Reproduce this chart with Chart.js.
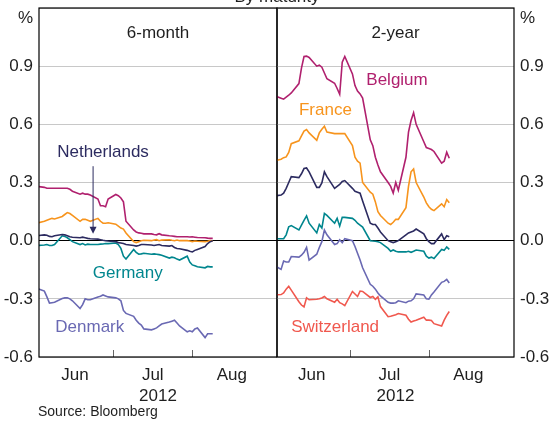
<!DOCTYPE html>
<html>
<head>
<meta charset="utf-8">
<script src="https://cdn.jsdelivr.net/npm/chart.js@4.4.1/dist/chart.umd.min.js"></script>
<style>
  html, body { margin: 0; padding: 0; background: #fff; }
  #wrap { position: relative; width: 551px; height: 423px; overflow: hidden; }
  #wrap canvas { position: absolute; left: 0; top: 0; }
</style>
</head>
<body>
<div id="wrap">
  <canvas id="left" width="551" height="423"></canvas>
  <canvas id="right" width="551" height="423"></canvas>
</div>
<script>
// trading days, counted as day of June 2012 (Jul 1 = 31, Aug 1 = 62)
const days = [1, 4, 5, 6, 7, 8, 11, 12, 13, 14, 15, 18, 19, 20, 21, 22, 25, 26, 27, 28, 29,
  32, 33, 34, 35, 36, 39, 40, 41, 42, 43, 46, 47, 48, 49, 50, 53, 54, 55, 56, 57, 60, 61,
  62, 63, 64, 67, 68, 69, 70];

const monthMids = [16, 46.5, 77.5];
const monthLabels = ['Jun', 'Jul', 'Aug'];
const monthStarts = [31, 62];

// 6-month yields, %
const m6Belgium = [0.28, 0.275, 0.27, 0.27, 0.27, 0.27, 0.27, 0.27, 0.27, 0.265, 0.255, 0.24, 0.245, 0.24, 0.24, 0.235,
  0.215, 0.18, 0.18, 0.175, 0.215, 0.238, 0.232, 0.22, 0.2, 0.1, 0.055, 0.045, 0.04, 0.038, 0.035, 0.035, 0.032, 0.03,
  0.036, 0.03, 0.025, 0.024, 0.022, 0.02, 0.02, 0.02, 0.019, 0.02, 0.018, 0.016, 0.015, 0.013, 0.012, 0.012];
const m6France = [0.09, 0.1, 0.105, 0.11, 0.115, 0.112, 0.125, 0.135, 0.145, 0.14, 0.13, 0.1, 0.11, 0.11, 0.105, 0.1,
  0.115, 0.1, 0.09, 0.09, 0.092, 0.085, 0.075, 0.065, 0.06, 0.04, -0.005, -0.01, -0.005, 0.0, 0.002, 0.0, 0.003, 0.005,
  0.0, 0.003, 0.005, 0.002, 0.0, 0.003, 0.0, 0.0, -0.002, -0.005, -0.002, -0.003, -0.005, -0.003, 0.0, -0.002];
const m6Netherlands = [0.025, 0.03, 0.028, 0.022, 0.02, 0.025, 0.032, 0.03, 0.025, 0.02, 0.018, 0.015, 0.018, 0.015,
  0.012, 0.01, 0.008, 0.005, 0.002, 0.0, -0.002, -0.005, -0.01, -0.012, -0.015, -0.02, -0.025, -0.028, -0.025, -0.02,
  -0.02, -0.022, -0.025, -0.022, -0.02, -0.025, -0.028, -0.025, -0.035, -0.04, -0.042, -0.05, -0.055, -0.058, -0.05,
  -0.045, -0.03, -0.015, -0.005, 0.0];
const m6Germany = [-0.025, -0.022, -0.02, -0.025, -0.025, -0.02, 0.025, 0.022, 0.015, 0.005, -0.005, -0.02, -0.015,
  -0.022, -0.018, -0.02, -0.02, -0.018, -0.017, -0.015, -0.015, -0.012, -0.02, -0.04, -0.08, -0.095, -0.045, -0.06,
  -0.07, -0.068, -0.065, -0.07, -0.068, -0.07, -0.072, -0.075, -0.09, -0.085, -0.088, -0.095, -0.1, -0.08, -0.11,
  -0.125, -0.13, -0.135, -0.14, -0.133, -0.135, -0.135];
const m6Denmark = [-0.245, -0.26, -0.29, -0.322, -0.32, -0.318, -0.298, -0.295, -0.295, -0.3, -0.31, -0.35, -0.33, -0.3,
  -0.305, -0.305, -0.29, -0.287, -0.28, -0.285, -0.29, -0.295, -0.3, -0.31, -0.36, -0.375, -0.39, -0.41, -0.425, -0.435,
  -0.455, -0.46, -0.455, -0.45, -0.44, -0.43, -0.42, -0.415, -0.41, -0.425, -0.44, -0.47, -0.465, -0.47, -0.455, -0.45,
  -0.5, -0.48, -0.48, -0.48];

// 2-year yields, %
const y2Belgium = [0.75, 0.735, 0.73, 0.74, 0.75, 0.762, 0.81, 0.89, 0.95, 0.952, 0.945, 0.9, 0.905, 0.895, 0.865, 0.835,
  0.812, 0.785, 0.755, 0.92, 0.95, 0.86, 0.8, 0.772, 0.757, 0.735, 0.52, 0.49, 0.43, 0.39, 0.355, 0.3, 0.28, 0.246, 0.3,
  0.26, 0.43, 0.56, 0.62, 0.66, 0.6, 0.51, 0.48, 0.475, 0.47, 0.46, 0.4, 0.41, 0.456, 0.425];
const y2France = [0.41, 0.42, 0.428, 0.432, 0.455, 0.5, 0.515, 0.54, 0.565, 0.573, 0.556, 0.518, 0.556, 0.575, 0.59,
  0.56, 0.552, 0.552, 0.552, 0.552, 0.552, 0.49, 0.43, 0.41, 0.4, 0.3, 0.25, 0.24, 0.2, 0.15, 0.13, 0.09, 0.083, 0.095,
  0.11, 0.11, 0.17, 0.28, 0.355, 0.37, 0.3, 0.225, 0.195, 0.175, 0.162, 0.155, 0.19, 0.175, 0.212, 0.195];
const y2Netherlands = [0.23, 0.235, 0.245, 0.27, 0.3, 0.33, 0.325, 0.345, 0.372, 0.375, 0.355, 0.275, 0.275, 0.298,
  0.355, 0.33, 0.27, 0.28, 0.29, 0.305, 0.31, 0.27, 0.255, 0.25, 0.245, 0.205, 0.09, 0.083, 0.083, 0.065, 0.045, 0.0,
  -0.005, -0.01, -0.005, 0.0, 0.03, 0.04, 0.045, 0.05, 0.06, 0.035, 0.01, -0.005, -0.015, -0.015, 0.035, 0.005, 0.025,
  0.02];
const y2Germany = [0.01, 0.01, 0.01, 0.03, 0.072, 0.078, 0.055, 0.08, 0.105, 0.128, 0.09, 0.04, 0.083, 0.065, 0.14,
  0.13, 0.09, 0.115, 0.075, 0.12, 0.12, 0.115, 0.105, 0.09, 0.08, 0.07, 0.0, -0.002, -0.003, -0.006, -0.01, -0.04,
  -0.055, -0.048, -0.055, -0.058, -0.058, -0.055, -0.06, -0.055, -0.048, -0.055, -0.08, -0.09, -0.085, -0.092, -0.045,
  -0.05, -0.032, -0.045];
const y2Denmark = [-0.125, -0.148, -0.105, -0.11, -0.11, -0.082, -0.085, -0.075, -0.06, -0.035, -0.1, -0.07, -0.035,
  -0.005, 0.055, 0.03, -0.02, -0.015, 0.005, -0.01, 0.01, 0.0, -0.03, -0.065, -0.1, -0.14, -0.225, -0.235, -0.25, -0.27,
  -0.285, -0.318, -0.322, -0.322, -0.32, -0.31, -0.32, -0.312, -0.31, -0.3, -0.275, -0.28, -0.3, -0.302, -0.28, -0.265,
  -0.215, -0.21, -0.2, -0.218];
const y2Switzerland = [-0.28, -0.278, -0.27, -0.25, -0.235, -0.255, -0.315, -0.332, -0.342, -0.295, -0.305, -0.302,
  -0.3, -0.296, -0.288, -0.3, -0.318, -0.302, -0.32, -0.326, -0.335, -0.262, -0.275, -0.288, -0.26, -0.262, -0.293,
  -0.288, -0.303, -0.29, -0.34, -0.392, -0.39, -0.386, -0.382, -0.376, -0.385, -0.405, -0.42, -0.414, -0.41, -0.395,
  -0.41, -0.41, -0.412, -0.428, -0.44, -0.41, -0.385, -0.365];

const FONT = '"Liberation Sans", Arial, sans-serif';
const TEXT = '#1e1e1e';
const colors = {
  Belgium: '#B0206E',
  France: '#F7941D',
  Netherlands: '#2C2B60',
  Germany: '#00868E',
  Denmark: '#6A69B3',
  Switzerland: '#F0584E',
};

Chart.defaults.font.family = FONT;
Chart.defaults.font.size = 17;
Chart.defaults.color = TEXT;

const toPoints = (values) => days.map((d, i) => ({ x: d, y: values[i] }));

const line = (name, values) => ({
  label: name,
  data: toPoints(values),
  borderColor: colors[name],
  borderWidth: 1.6,
  pointRadius: 0,
  fill: false,
  tension: 0,
});

// label anchors in data units (day, %)
const leftNotes = [
  { text: 'Netherlands', day: 27.0, value: 0.455 },
  { text: 'Germany', day: 36.7, value: -0.17 },
  { text: 'Denmark', day: 21.8, value: -0.448 },
];
const rightNotes = [
  { text: 'Belgium', day: 49.5, value: 0.828 },
  { text: 'France', day: 21.4, value: 0.67 },
  { text: 'Switzerland', day: 25.2, value: -0.445 },
];
const arrowNote = { day: 23.1, from: 0.384, to: 0.036 };

const panelDecor = {
  id: 'panelDecor',
  afterDatasetsDraw(chart, args, opts) {
    const { ctx, chartArea: a, scales: { x, y } } = chart;
    ctx.save();

    // month boundary ticks
    ctx.strokeStyle = '#666';
    ctx.lineWidth = 1;
    monthStarts.forEach((m) => {
      const px = Math.round(x.getPixelForValue(m)) + 0.5;
      ctx.beginPath();
      ctx.moveTo(px, a.bottom);
      ctx.lineTo(px, a.bottom - 7);
      ctx.stroke();
    });

    // frame
    ctx.strokeStyle = '#000';
    ctx.lineWidth = 1.2;
    ctx.strokeRect(a.left, a.top, a.right - a.left, a.bottom - a.top);

    ctx.textBaseline = 'middle';
    ctx.textAlign = 'center';
    ctx.font = `17px ${FONT}`;
    ctx.fillStyle = TEXT;
    ctx.fillText(opts.title, (a.left + a.right) / 2, a.top + 25);

    // series labels
    opts.notes.forEach((n) => {
      ctx.fillStyle = colors[n.text];
      ctx.fillText(n.text, x.getPixelForValue(n.day), y.getPixelForValue(n.value));
    });

    if (opts.arrow) {
      const ax = x.getPixelForValue(opts.arrow.day);
      const y1 = y.getPixelForValue(opts.arrow.from);
      const y2 = y.getPixelForValue(opts.arrow.to);
      ctx.strokeStyle = colors.Netherlands;
      ctx.fillStyle = colors.Netherlands;
      ctx.lineWidth = 1;
      ctx.beginPath();
      ctx.moveTo(ax, y1);
      ctx.lineTo(ax, y2 - 6);
      ctx.stroke();
      ctx.beginPath();
      ctx.moveTo(ax - 3.5, y2 - 7);
      ctx.lineTo(ax + 3.5, y2 - 7);
      ctx.lineTo(ax, y2);
      ctx.closePath();
      ctx.fill();
    }

    // unit
    ctx.fillStyle = TEXT;
    if (opts.side === 'left') {
      ctx.textAlign = 'right';
      ctx.fillText('%', a.left - 6, 18);
      ctx.textAlign = 'center';
      ctx.textBaseline = 'alphabetic';
      ctx.fillText('By maturity', a.right, 1.5);
      ctx.textAlign = 'left';
      ctx.textBaseline = 'middle';
      ctx.font = `14px ${FONT}`;
      ctx.fillText('Source: Bloomberg', a.left - 1, 412);
    } else {
      ctx.textAlign = 'left';
      ctx.fillText('%', a.right + 6, 18);
    }
    ctx.restore();
  },
};

const yLabel = (v) => {
  if (Math.abs(v - 1.2) < 1e-9) return '';
  if (Math.abs(v) < 1e-9) return '0.0';
  return v.toFixed(1);
};

const makeChart = (id, side, xMin, xMax, datasets, title, notes, arrow) => {
  const left = side === 'left';
  return new Chart(document.getElementById(id), {
    type: 'line',
    data: { datasets },
    options: {
      responsive: false,
      animation: false,
      layout: {
        padding: left ? { left: 0, top: 8, right: 274, bottom: 0 } : { left: 277, top: 8, right: 0, bottom: 0 },
      },
      plugins: {
        legend: { display: false },
        tooltip: { enabled: false },
        panelDecor: { side, title, notes, arrow },
      },
      scales: {
        x: {
          type: 'linear',
          min: xMin,
          max: xMax,
          afterBuildTicks: (scale) => {
            scale.ticks = monthMids.map((v) => ({ value: v }));
          },
          afterFit: (scale) => {
            scale.height = 66;
            scale.paddingLeft = 0;
            scale.paddingRight = 0;
          },
          ticks: {
            autoSkip: false,
            maxRotation: 0,
            padding: 8,
            callback: (v) => monthLabels[monthMids.indexOf(v)] ?? '',
          },
          grid: { display: false, drawTicks: false },
          border: { display: false },
          title: {
            display: true,
            text: '2012',
            padding: { top: 0, bottom: 16 },
          },
        },
        y: {
          position: side,
          min: -0.6,
          max: 1.2,
          afterFit: (scale) => {
            scale.width = left ? 39 : 37;
            scale.paddingTop = 0;
            scale.paddingBottom = 0;
          },
          ticks: {
            stepSize: 0.3,
            padding: 6,
            callback: yLabel,
          },
          grid: {
            drawTicks: false,
            lineWidth: 1,
            color: (ctx) => (Math.abs(ctx.tick.value) < 1e-9 ? '#000' : '#c8c8c8'),
          },
          border: { display: false },
        },
      },
    },
    plugins: [panelDecor],
  });
};

makeChart('left', 'left', 1.9, 95.2, [
  line('Netherlands', m6Netherlands),
  line('Germany', m6Germany),
  line('France', m6France),
  line('Belgium', m6Belgium),
  line('Denmark', m6Denmark),
], '6-month', leftNotes, arrowNote);

makeChart('right', 'right', 2.4, 95.4, [
  line('Netherlands', y2Netherlands),
  line('Germany', y2Germany),
  line('France', y2France),
  line('Belgium', y2Belgium),
  line('Denmark', y2Denmark),
  line('Switzerland', y2Switzerland),
], '2-year', rightNotes, null);
</script>
</body>
</html>
